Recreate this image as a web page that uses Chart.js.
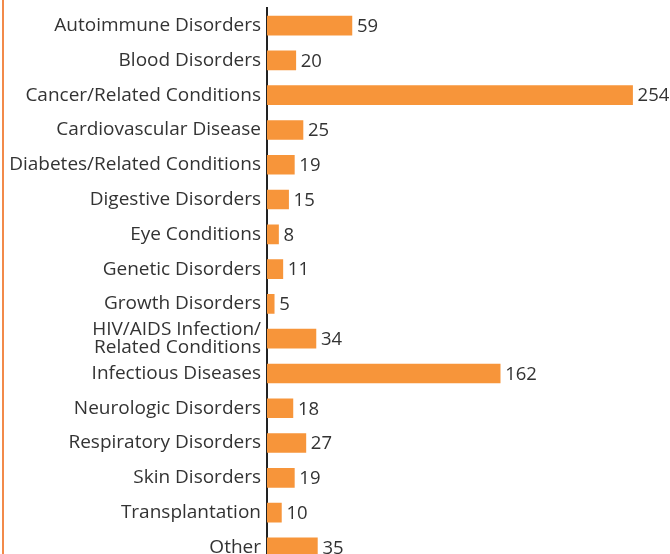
<!DOCTYPE html>
<html>
<head>
<meta charset="utf-8">
<script src="https://cdn.jsdelivr.net/npm/chart.js@4/dist/chart.umd.min.js"></script>
<style>
  html, body { margin: 0; padding: 0; background: #fff; overflow: hidden; }
  #wrap { position: relative; width: 670px; height: 554px; overflow: hidden; }
  #pipeline { position: absolute; left: 0; top: -7px; }
  #edge { position: absolute; left: 2px; top: 0; width: 2px; height: 554px; background: #f28a4a; }
</style>
</head>
<body>
<div id="wrap">
  <canvas id="pipeline" width="670" height="587"></canvas>
  <div id="edge"></div>
</div>
<script>
var categories = [
  "Autoimmune Disorders",
  "Blood Disorders",
  "Cancer/Related Conditions",
  "Cardiovascular Disease",
  "Diabetes/Related Conditions",
  "Digestive Disorders",
  "Eye Conditions",
  "Genetic Disorders",
  "Growth Disorders",
  ["HIV/AIDS Infection/", "Related Conditions"],
  "Infectious Diseases",
  "Neurologic Disorders",
  "Respiratory Disorders",
  "Skin Disorders",
  "Transplantation",
  "Other"
];
var medicines = [59, 20, 254, 25, 19, 15, 8, 11, 5, 34, 162, 18, 27, 19, 10, 35];

var labelFont = "'Open Sans', 'Helvetica', 'Arial', sans-serif";

// value printed just past the end of each bar
var valueLabels = {
  id: "valueLabels",
  afterDatasetsDraw: function(chart) {
    var ctx = chart.ctx;
    var meta = chart.getDatasetMeta(0);
    ctx.save();
    ctx.font = "18.5px " + labelFont;
    ctx.fillStyle = "#333";
    ctx.textBaseline = "middle";
    ctx.textAlign = "left";
    meta.data.forEach(function(bar, i) {
      ctx.fillText(medicines[i], bar.x + 5, bar.y + 1);
    });
    ctx.restore();
  }
};

var ctx = document.getElementById("pipeline");
var pipeline = new Chart(ctx, {
  type: "bar",
  data: {
    labels: categories,
    datasets: [{
      data: medicines,
      backgroundColor: "#f7953a",
      barThickness: 19
    }]
  },
  plugins: [valueLabels],
  options: {
    indexAxis: "y",
    responsive: false,
    animation: false,
    layout: { padding: 0 },
    plugins: {
      legend: { display: false },
      tooltip: { enabled: false }
    },
    scales: {
      x: {
        display: false,
        min: 0,
        max: 280
      },
      y: {
        afterFit: function(scale) { scale.width = 267; },
        grid: { display: false, drawTicks: false },
        border: { display: true, color: "#222", width: 2 },
        ticks: {
          autoSkip: false,
          color: "#333",
          padding: 6,
          font: { family: labelFont, size: 19, lineHeight: 0.97 }
        }
      }
    }
  }
});
</script>
</body>
</html>
